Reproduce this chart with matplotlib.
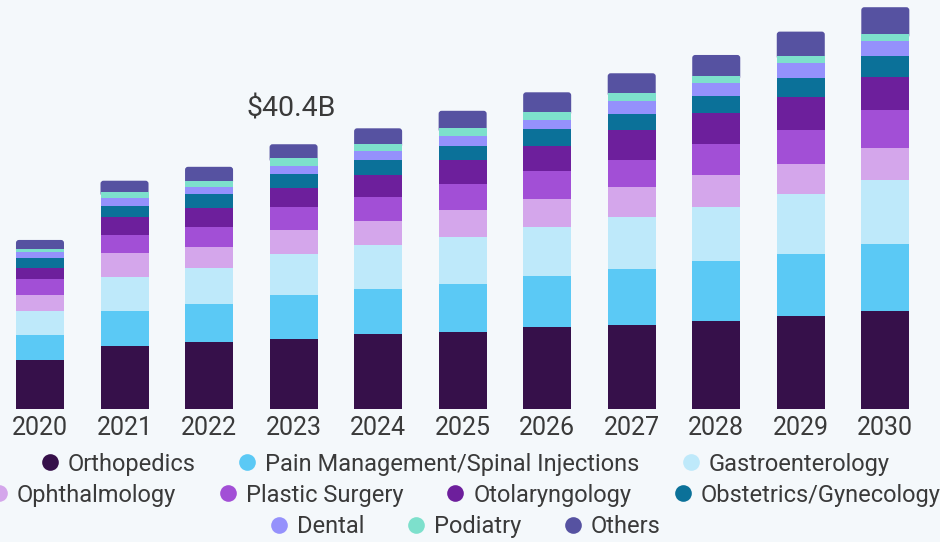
import numpy as np
import matplotlib.pyplot as plt
from matplotlib.lines import Line2D
from matplotlib.patches import FancyBboxPatch

plt.rcParams['font.family'] = ['Roboto', 'DejaVu Sans']

years = ['2020', '2021', '2022', '2023', '2024', '2025', '2026', '2027', '2028', '2029', '2030']

# market size by specialty, USD billion
orthopedics = [7.52, 9.70, 10.21, 10.72, 11.48, 11.83, 12.50, 12.81, 13.51, 14.22, 14.99]
pain_management = [3.77, 5.29, 5.79, 6.71, 6.81, 7.27, 7.82, 8.54, 9.15, 9.45, 10.17]
gastroenterology = [3.66, 5.14, 5.58, 6.25, 6.71, 7.17, 7.52, 8.02, 8.23, 9.15, 9.80]
ophthalmology = [2.44, 3.66, 3.16, 3.66, 3.70, 4.16, 4.22, 4.57, 4.88, 4.53, 4.83]
plastic_surgery = [2.48, 2.79, 3.09, 3.55, 3.70, 3.87, 4.31, 4.07, 4.63, 5.23, 5.84]
otolaryngology = [1.72, 2.79, 2.90, 2.81, 3.31, 3.66, 3.77, 4.57, 4.73, 5.08, 5.08]
obgyn = [1.43, 1.63, 2.04, 2.18, 2.29, 2.18, 2.55, 2.39, 2.64, 2.90, 3.16]
dental = [1.01, 1.17, 1.16, 1.27, 1.42, 1.52, 1.46, 2.03, 1.94, 2.20, 2.24]
podiatry = [0.37, 0.91, 0.91, 1.13, 0.98, 1.17, 1.22, 1.27, 1.11, 1.16, 1.07]
others = [1.42, 1.77, 2.13, 2.13, 2.44, 2.68, 2.96, 2.96, 3.20, 3.66, 4.12]

series = [orthopedics, pain_management, gastroenterology, ophthalmology, plastic_surgery,
          otolaryngology, obgyn, dental, podiatry, others]
labels = ['Orthopedics', 'Pain Management/Spinal Injections', 'Gastroenterology',
          'Ophthalmology', 'Plastic Surgery', 'Otolaryngology', 'Obstetrics/Gynecology',
          'Dental', 'Podiatry', 'Others']
colors = ['#36104a', '#5bc9f5', '#bee9fa', '#d4a6eb', '#a24fd6',
          '#6d1f9c', '#0b7199', '#9591fc', '#7de0cc', '#5652a1']

highlight_year = '2023'
highlight_text = '$40.4B'

bg = '#f4f8fb'
text_color = '#3a3a3a'
bar_w = 0.568

fig = plt.figure(figsize=(9.4, 5.42), dpi=100, facecolor=bg)
ax = fig.add_axes([0, 0.2448, 1, 0.7552])
ax.set_facecolor(bg)

x = np.arange(len(years))
bottom = np.zeros(len(years))
for i, (vals, col, lab) in enumerate(zip(series, colors, labels)):
    if i < len(series) - 1:
        ax.bar(x, vals, width=bar_w, bottom=bottom, color=col, label=lab, linewidth=0, zorder=2)
    else:
        # top segment gets slightly rounded corners; it is stretched down under
        # the segment below so only the top corners show
        for xi, b, v in zip(x, bottom, vals):
            ax.add_patch(FancyBboxPatch((xi - bar_w / 2, b - 0.6), bar_w, v + 0.6,
                                        boxstyle='round,pad=0,rounding_size=0.035',
                                        mutation_aspect=12.89, facecolor=col,
                                        linewidth=0, zorder=1))
    bottom += np.array(vals)

ax.set_xlim(-0.473, 10.647)
ax.set_ylim(0, 62.4)
ax.set_xticks(x)
ax.set_xticklabels(years, fontsize=18, color=text_color)
ax.tick_params(axis='x', length=0, pad=5)
ax.set_yticks([])
for s in ax.spines.values():
    s.set_visible(False)

# value label above the highlighted bar
hi = years.index(highlight_year)
ax.annotate(highlight_text, (hi, bottom[hi]), xytext=(-2, 16), textcoords='offset points',
            ha='center', va='bottom', fontsize=20.5, color=text_color)

# legend, three centred rows like the original
handles = [Line2D([0], [0], marker='o', linestyle='none', markersize=12,
                  markerfacecolor=c, markeredgewidth=0) for c in colors]
rows = [(0, 3, 0.1439), (3, 7, 0.0867), (7, 10, 0.0277)]
for a, b, yy in rows:
    leg = fig.legend(handles[a:b], labels[a:b], loc='center', bbox_to_anchor=(0.495, yy),
                     ncol=b - a, frameon=False, fontsize=17, handlelength=0.8,
                     handletextpad=0.35, columnspacing=1.8, borderpad=0, borderaxespad=0)
    for t in leg.get_texts():
        t.set_color(text_color)

fig.savefig('out.png', dpi=100, facecolor=bg)
